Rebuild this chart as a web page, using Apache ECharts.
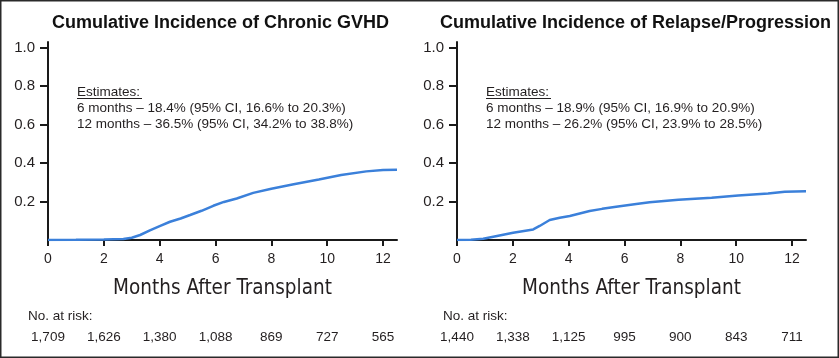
<!DOCTYPE html>
<html><head><meta charset="utf-8">
<script src="https://cdn.jsdelivr.net/npm/echarts@6/dist/echarts.min.js"></script>
<style>html,body{margin:0;padding:0;background:#fff}#c{width:839px;height:358px}</style>
</head><body><div id="c"></div>
<script>
// ---- data ----
const titles = ['Cumulative Incidence of Chronic GVHD', 'Cumulative Incidence of Relapse/Progression'];
const xTicks = [0, 2, 4, 6, 8, 10, 12];
const yTicks = [0.2, 0.4, 0.6, 0.8, 1.0];
const gvhdMonths = [0, 1, 2, 2.7, 3.0, 3.3, 3.65, 4.0, 4.37, 4.75, 5.09, 5.5, 5.92, 6.3, 6.76, 7.35, 8.0, 8.8, 9.7, 10.5, 11.4, 12.0, 12.5];
const gvhdValues = [0, 0.001, 0.003, 0.005, 0.012, 0.026, 0.05, 0.072, 0.095, 0.112, 0.13, 0.152, 0.178, 0.198, 0.216, 0.245, 0.267, 0.29, 0.315, 0.338, 0.357, 0.364, 0.366];
const relMonths = [0, 0.5, 0.94, 1.3, 2.01, 2.73, 2.96, 3.32, 3.68, 4.04, 4.75, 5.2, 5.7, 6.42, 6.9, 7.93, 9.12, 10.07, 11.14, 11.74, 12.5];
const relValues = [0, 0.001, 0.006, 0.017, 0.038, 0.055, 0.073, 0.104, 0.116, 0.125, 0.151, 0.162, 0.173, 0.187, 0.196, 0.209, 0.22, 0.232, 0.242, 0.251, 0.253];
const gvhdRisk = ['1,709', '1,626', '1,380', '1,088', '869', '727', '565'];
const relRisk = ['1,440', '1,338', '1,125', '995', '900', '843', '711'];
const estimates = [
  ['Estimates:', '6 months – 18.4% (95% CI, 16.6% to 20.3%)', '12 months – 36.5% (95% CI, 34.2% to 38.8%)'],
  ['Estimates:', '6 months – 18.9% (95% CI, 16.9% to 20.9%)', '12 months – 26.2% (95% CI, 23.9% to 28.5%)']
];

const TXT = '#231f20';
const BLUE = '#3b80da';
const FONT = '"Liberation Sans", Arial, sans-serif';
const lefts = [48, 457];
const W = 349;

const grids = lefts.map(l => ({left: l, top: 42, width: W, height: 198}));
const xAxes = [], yAxes = [], series = [];
const risks = [gvhdRisk, relRisk];
[0, 1].forEach(i => {
  xAxes.push({
    type: 'value', gridIndex: i, min: 0, max: 12.5, interval: 2,
    splitLine: {show: false},
    axisLine: {lineStyle: {color: '#1a1a1a', width: 2}},
    axisTick: {customValues: xTicks, length: 6, lineStyle: {color: '#1a1a1a', width: 2}},
    axisLabel: {customValues: xTicks, margin: 12, fontSize: 14, color: TXT, fontFamily: FONT},
    name: 'Months After Transplant', nameLocation: 'middle', nameGap: 38,
    nameTextStyle: {fontSize: 20.5, color: TXT, fontFamily: '"DejaVu Sans Condensed", "Liberation Sans Narrow", Arial, sans-serif'}
  });
  xAxes.push({
    type: 'value', gridIndex: i, min: 0, max: 12.5, position: 'bottom', offset: 90,
    splitLine: {show: false}, axisLine: {show: false}, axisTick: {show: false},
    axisLabel: {customValues: xTicks, margin: 0, fontSize: 13.5, color: TXT, fontFamily: FONT,
      formatter: (v) => risks[i][Math.round(v / 2)]}
  });
  yAxes.push({
    type: 'value', gridIndex: i, min: 0, max: 1.03,
    splitLine: {show: false},
    axisLine: {show: true, lineStyle: {color: '#1a1a1a', width: 2}},
    axisTick: {show: true, customValues: yTicks, length: 8, lineStyle: {color: '#1a1a1a', width: 2}},
    axisLabel: {customValues: yTicks, margin: 13, fontSize: 15, color: TXT, fontFamily: FONT,
      formatter: v => v.toFixed(1)}
  });
});
const mk = (xs, ys) => xs.map((x, k) => [x, ys[k]]);
series.push({type: 'line', xAxisIndex: 0, yAxisIndex: 0, data: mk(gvhdMonths, gvhdValues), showSymbol: false,
  lineStyle: {color: BLUE, width: 2.5}, animation: false});
series.push({type: 'line', xAxisIndex: 2, yAxisIndex: 1, data: mk(relMonths, relValues), showSymbol: false,
  lineStyle: {color: BLUE, width: 2.5}, animation: false});

const graphic = [
  {type: 'rect', shape: {x: 0.75, y: 0.75, width: 837.5, height: 356.5}, style: {fill: 'none', stroke: '#2a2a2a', lineWidth: 1.5}, silent: true}
];
const titleCenters = [220.5, 635.5];
const estX = [77, 486];
const riskX = [28, 443];
[0, 1].forEach(i => {
  graphic.push({type: 'text', x: titleCenters[i], y: 23, style: {text: titles[i], fill: '#111', font: 'bold 18px ' + FONT, textAlign: 'center', textVerticalAlign: 'middle'}});
  estimates[i].forEach((t, k) => {
    graphic.push({type: 'text', x: estX[i], y: 92.5 + 16 * k, style: {text: t, fill: TXT, font: '13.5px ' + FONT, textAlign: 'left', textVerticalAlign: 'middle'}});
  });
  graphic.push({type: 'line', shape: {x1: estX[i], y1: 98.5, x2: estX[i] + 65, y2: 98.5}, style: {stroke: TXT, lineWidth: 1}});
  graphic.push({type: 'text', x: riskX[i], y: 316.5, style: {text: 'No. at risk:', fill: TXT, font: '13.5px ' + FONT, textAlign: 'left', textVerticalAlign: 'middle'}});
});

const chart = echarts.init(document.getElementById('c'), null, {renderer: 'canvas'});
chart.setOption({
  animation: false,
  grid: grids, xAxis: xAxes, yAxis: yAxes, series: series, graphic: graphic
});
</script></body></html>
